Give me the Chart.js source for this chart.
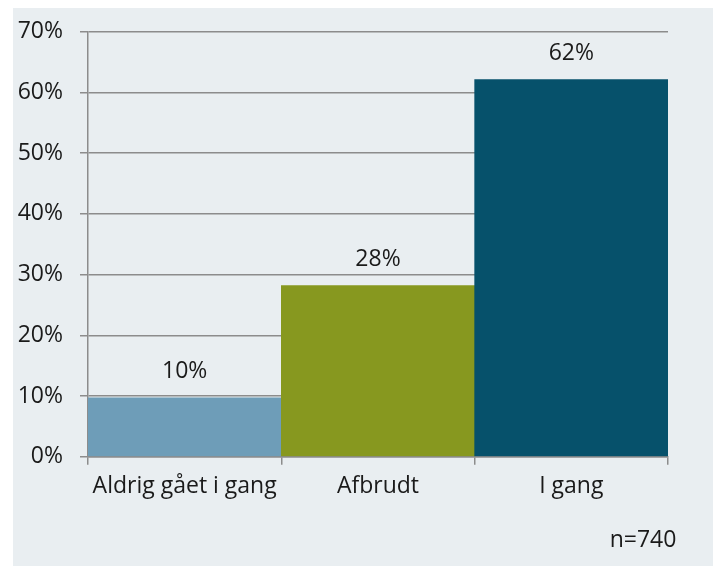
<!DOCTYPE html>
<html><head><meta charset="utf-8">
<script src="https://cdn.jsdelivr.net/npm/chart.js@4/dist/chart.umd.min.js"></script>
<style>
html,body{margin:0;padding:0;background:#fff;width:713px;height:566px;overflow:hidden}
#wrap{position:absolute;left:13px;top:8px;width:700px;height:558px;background:#E9EEF1}
</style></head><body>
<div id="wrap"><canvas id="c" width="700" height="558"></canvas></div>
<script>
const categories = ["Aldrig gået i gang", "Afbrudt", "I gang"];
const values = [9.7, 28.2, 62.1];
const valueLabels = ["10%", "28%", "62%"];
const barColors = ["#6E9DB8", "#87981F", "#06516B"];
const yTicks = [0, 10, 20, 30, 40, 50, 60, 70];
const note = "n=740";

const FONT = "'Open Sans', sans-serif";
const FS = 23;
const textColor = "#1a1a1a";
const gridColor = "#8c8c8c";

const valuePlugin = {
  id: 'valueLabels',
  afterDatasetsDraw(chart) {
    const ctx = chart.ctx;
    const meta = chart.getDatasetMeta(0);
    ctx.save();
    ctx.font = FS + "px " + FONT;
    ctx.fillStyle = textColor;
    ctx.textAlign = 'center';
    ctx.textBaseline = 'middle';
    meta.data.forEach((bar, i) => {
      ctx.fillText(valueLabels[i], bar.x, bar.y - 26);
    });
    ctx.fillText(note, chart.chartArea.right - 25, chart.chartArea.bottom + 84);
    ctx.restore();
  }
};

new Chart(document.getElementById('c'), {
  type: 'bar',
  data: {
    labels: categories,
    datasets: [{
      data: values,
      backgroundColor: barColors,
      borderWidth: 0,
      barPercentage: 1,
      categoryPercentage: 1
    }]
  },
  options: {
    responsive: false,
    animation: false,
    devicePixelRatio: 1,
    layout: { padding: { left: 0, right: 45, top: 23.7, bottom: 0 } },
    plugins: { legend: { display: false }, tooltip: { enabled: false } },
    scales: {
      x: {
        offset: true,
        grid: { offset: true, drawOnChartArea: false, color: gridColor, lineWidth: 1.5, tickLength: 8 },
        border: { color: gridColor, width: 1.5 },
        ticks: { color: textColor, font: { family: FONT, size: FS }, padding: 8, maxRotation: 0 },
        afterFit(s) { s.height = 558 - 448.7; s.paddingLeft = 0; s.paddingRight = 0; }
      },
      y: {
        min: 0, max: 70,
        afterBuildTicks(s) { s.ticks = yTicks.map(v => ({ value: v })); },
        grid: { color: gridColor, lineWidth: 1.5, tickLength: 8 },
        border: { color: gridColor, width: 1.5 },
        ticks: { color: textColor, font: { family: FONT, size: FS }, padding: 17, callback: v => v + '%' },
        afterFit(s) { s.width = 75; s.paddingTop = 0; s.paddingBottom = 0; }
      }
    }
  },
  plugins: [valuePlugin]
});
</script>
</body></html>
